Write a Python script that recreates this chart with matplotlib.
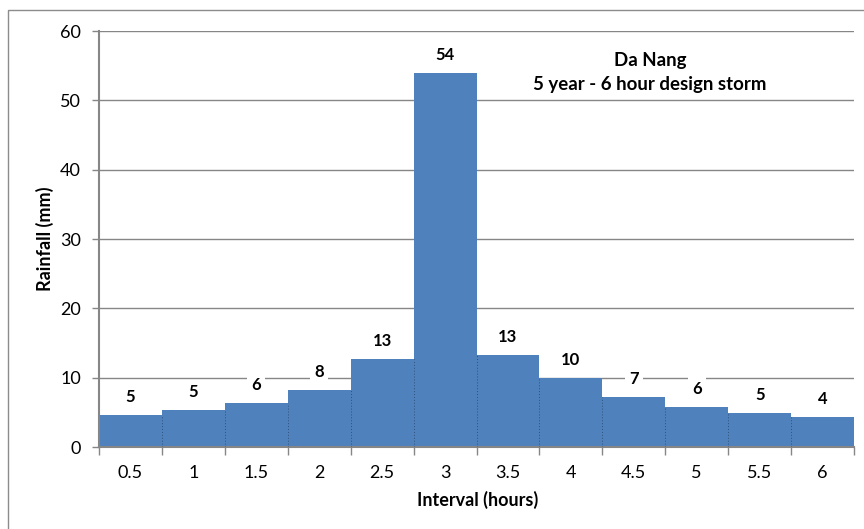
import matplotlib
matplotlib.use("Agg")
import matplotlib.pyplot as plt
from matplotlib.patches import Rectangle
import numpy as np

plt.rcParams['font.family'] = ['Lato', 'DejaVu Sans']

# design storm hyetograph, Da Nang
intervals = ["0.5", "1", "1.5", "2", "2.5", "3", "3.5", "4", "4.5", "5", "5.5", "6"]
rainfall = [4.57, 5.34, 6.39, 8.22, 12.7, 54.0, 13.3, 10.0, 7.2, 5.77, 4.9, 4.33]
y_ticks = [0, 10, 20, 30, 40, 50, 60]

bar_color = '#4F81BD'
axis_gray = '#868686'

fig = plt.figure(figsize=(8.64, 5.29), dpi=100)
W, H = 864, 529

# outer chart frame
fig.patches.append(Rectangle((8 / W, 1 - 10 / H), 2, -2, transform=fig.transFigure,
                             fill=False, edgecolor='#8c8c8c', linewidth=1.0))

ax = fig.add_axes([99 / W, (H - 447) / H, 755 / W, 416 / H])
x = np.arange(len(rainfall))
ax.bar(x, rainfall, width=1.0, color=bar_color, linewidth=0, zorder=2)

# dotted separators between neighbouring bars
for i in range(len(rainfall) - 1):
    top = min(rainfall[i], rainfall[i + 1])
    ax.vlines(i + 0.5, 0, top, colors='#2f4f78', linestyles=(0, (1, 2)),
              linewidth=0.7, zorder=3)

for xi, v in zip(x, rainfall):
    ax.annotate(f"{v:.0f}", (xi, v), xytext=(0, 18), textcoords='offset pixels',
                ha='center', va='center', fontsize=12, fontweight='bold',
                bbox=dict(boxstyle='square,pad=0.25', fc='white', ec='none'),
                zorder=4)

ax.set_xlim(-0.5, len(rainfall) - 0.5)
ax.set_ylim(0, 60)
ax.set_yticks(y_ticks)
ax.yaxis.grid(True, color=axis_gray, linewidth=1.0, zorder=0)
ax.set_axisbelow(True)

ax.set_xticks(x)
ax.set_xticklabels(intervals)
ax.set_xticks(np.arange(len(rainfall) + 1) - 0.5, minor=True)
ax.tick_params(axis='x', which='major', length=0, pad=13, labelsize=13)
ax.tick_params(axis='x', which='minor', length=6, color=axis_gray, width=1)
ax.tick_params(axis='y', length=5, color=axis_gray, width=1, labelsize=13, pad=8)

for s in ['top', 'right']:
    ax.spines[s].set_visible(False)
for s in ['left', 'bottom']:
    ax.spines[s].set_color(axis_gray)
    ax.spines[s].set_linewidth(1.5)

ax.set_xlabel("Interval (hours)", fontsize=13, fontweight='bold')
ax.set_ylabel("Rainfall (mm)", fontsize=13, fontweight='bold')
ax.xaxis.set_label_coords(0.502, -0.128)
ax.yaxis.set_label_coords(-0.0715, 0.5)
ax.xaxis.label.set_va('center')
ax.yaxis.label.set_va('center')

ax.text(0.73, 0.9, "Da Nang\n5 year - 6 hour design storm", transform=ax.transAxes,
        ha='center', va='center', fontsize=13.4, fontweight='bold', linespacing=1.45)

fig.savefig("out.png", dpi=100)
